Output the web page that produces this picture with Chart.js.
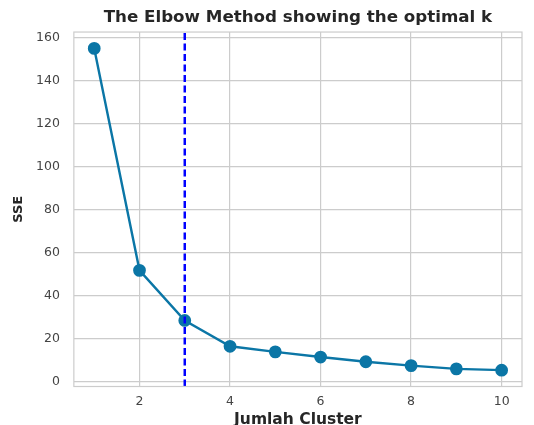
<!DOCTYPE html>
<html><head><meta charset="utf-8">
<script src="https://cdn.jsdelivr.net/npm/chart.js@4/dist/chart.umd.min.js"></script>
<style>html,body{margin:0;padding:0;background:#fff}#wrap{width:534px;height:425px}</style>
</head><body><div id="wrap"><canvas id="c"></canvas></div>
<script>
const clusters = [1,2,3,4,5,6,7,8,9,10];
const sse = [155,51.8,28.5,16.5,13.9,11.5,9.3,7.5,6.0,5.4];
const optimalK = 3;
const xTicks = [2,4,6,8,10];
const yTicks = [0,20,40,60,80,100,120,140,160];
const xRange = [0.55,10.45];
const yRange = [-2.2,162.6];

const frame = {id:'frame', afterDraw(ch){const a=ch.chartArea,c=ch.ctx;c.save();c.strokeStyle='#cccccc';c.lineWidth=1.2;c.strokeRect(a.left,a.top,a.right-a.left,a.bottom-a.top);c.restore();}};

new Chart(document.getElementById('c'),{
  type:'line',
  data:{datasets:[
    {data:[{x:optimalK,y:yRange[0]},{x:optimalK,y:yRange[1]}],borderColor:'#0000ff',borderWidth:2.5,borderDash:[7,3.5],pointRadius:0,order:0},
    {data:clusters.map((k,i)=>({x:k,y:sse[i]})),borderColor:'#0b76a6',backgroundColor:'#0b76a6',borderWidth:2.4,pointRadius:5.2,pointHoverRadius:5.2,order:1}
  ]},
  options:{
    responsive:true,maintainAspectRatio:false,animation:false,
    layout:{padding:{left:12,right:12,top:2,bottom:0}},
    plugins:{legend:{display:false},tooltip:{enabled:false},
      title:{display:true,fullSize:false,text:'The Elbow Method showing the optimal k',color:'#262626',font:{family:'DejaVu Sans',size:16.7,weight:'bold',lineHeight:1.2},padding:{top:6,bottom:4}}},
    scales:{
      x:{type:'linear',min:xRange[0],max:xRange[1],
        afterBuildTicks(s){s.ticks=xTicks.map(v=>({value:v}));},
        grid:{color:'#cccccc',lineWidth:1.2,drawTicks:false},border:{display:false},
        ticks:{color:'#444',font:{family:'DejaVu Sans',size:12.5},padding:8},
        title:{display:true,text:'Jumlah Cluster',color:'#262626',font:{family:'DejaVu Sans',size:15.5,weight:'bold',lineHeight:1},padding:{top:-5,bottom:-3}}},
      y:{type:'linear',min:yRange[0],max:yRange[1],
        afterBuildTicks(s){s.ticks=yTicks.map(v=>({value:v}));},
        grid:{color:'#cccccc',lineWidth:1.2,drawTicks:false},border:{display:false},
        ticks:{color:'#444',font:{family:'DejaVu Sans',size:12.5},padding:14},
        title:{display:true,text:'SSE',color:'#262626',font:{family:'DejaVu Sans',size:13,weight:'bold',lineHeight:1},padding:{top:0,bottom:-3}}}
    }
  },
  plugins:[frame]
});
</script></body></html>
